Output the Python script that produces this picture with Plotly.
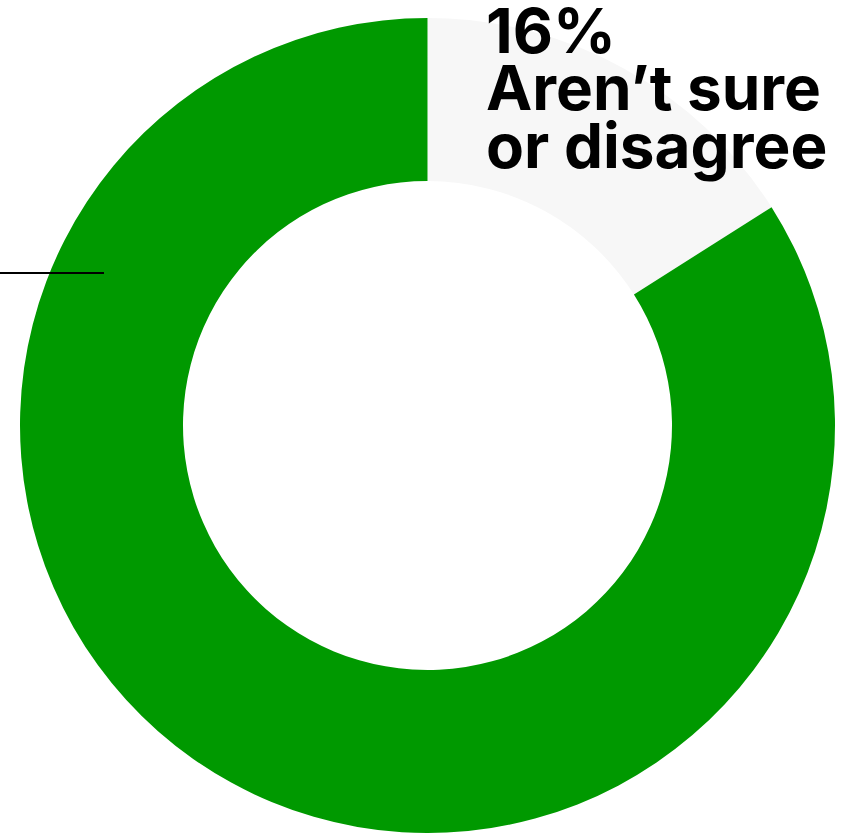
import plotly.graph_objects as go

labels = ["Aren’t sure or disagree", "Agree"]
values = [16, 84]
colors = ["#f7f7f7", "#009900"]
label_lines = ["16%", "Aren’t sure", "or disagree"]

W, H = 848, 833

fig = go.Figure(go.Pie(
    labels=labels,
    values=values,
    hole=0.6,
    sort=False,
    direction="clockwise",
    rotation=0,
    marker=dict(colors=colors, line=dict(width=0)),
    textinfo="none",
    hoverinfo="skip",
    showlegend=False,
    domain=dict(x=[20 / W, 835 / W], y=[0, 1 - 18 / H]),
))

line_centers = [31, 88, 145]
for txt, yc in zip(label_lines, line_centers):
    fig.add_annotation(
        text=txt, xref="paper", yref="paper",
        x=484 / W, y=1 - yc / H, xanchor="left", yanchor="middle",
        showarrow=False,
        font=dict(family="Inter", size=62, color="#000000", weight="bold"),
    )

fig.add_shape(type="line", xref="paper", yref="paper",
              x0=0, x1=104 / W, y0=1 - 273 / H, y1=1 - 273 / H,
              line=dict(color="#000000", width=2))

fig.update_layout(
    width=W, height=H,
    margin=dict(l=0, r=0, t=0, b=0),
    paper_bgcolor="#ffffff",
    plot_bgcolor="#ffffff",
)

fig.write_html("out.html", config={"displayModeBar": False},
               post_script="document.body.style.margin='0';")
